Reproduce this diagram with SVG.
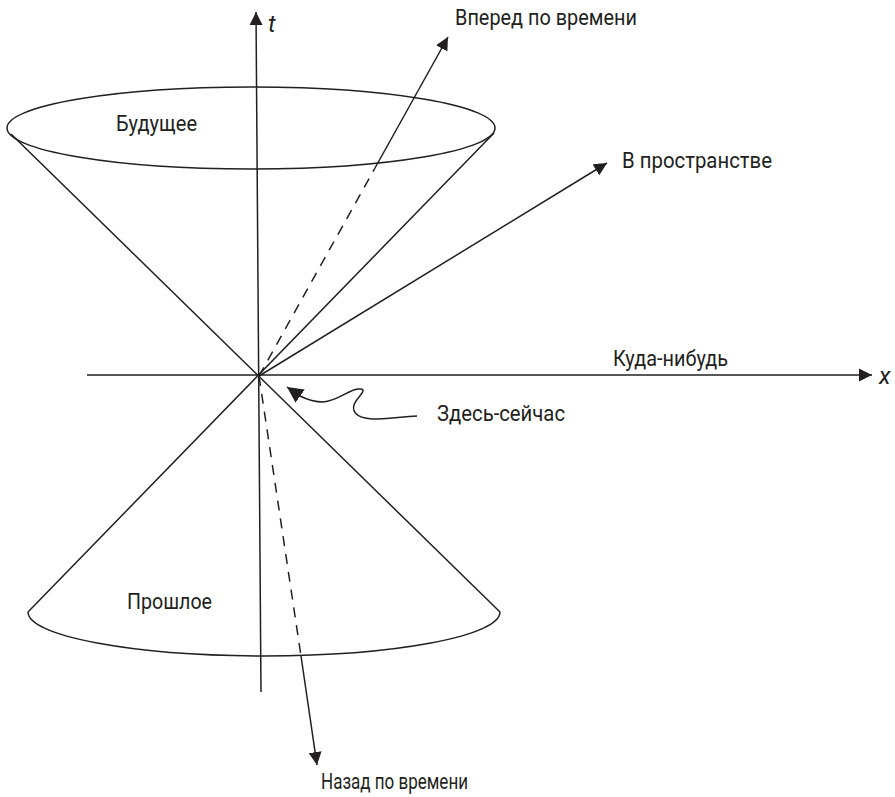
<svg xmlns="http://www.w3.org/2000/svg" width="895" height="797" viewBox="0 0 895 797">
<style>
.ln{fill:none;stroke:#231f20;stroke-width:1.5}
.dash{fill:none;stroke:#231f20;stroke-width:1.5;stroke-dasharray:10 8}
.lbl{font-family:Roboto,"Liberation Sans",sans-serif;font-size:22.5px;fill:#231f20}
.it{font-family:Roboto,"Liberation Sans",sans-serif;font-size:24px;font-style:italic;fill:#231f20}
</style>
<defs>
<marker id="ah" markerUnits="userSpaceOnUse" markerWidth="14" markerHeight="14" refX="13" refY="6.5" orient="auto" viewBox="0 0 14 13">
<path d="M0,0 L13,6.5 L0,13 z" fill="#231f20"/>
</marker>
<marker id="ah2" markerUnits="userSpaceOnUse" markerWidth="17" markerHeight="17" refX="16" refY="8" orient="auto" viewBox="0 0 17 16">
<path d="M0,0 L16,8 L0,16 z" fill="#231f20"/>
</marker>
</defs>
<g id="connectors">
<line class="ln" x1="261" y1="692" x2="256" y2="12" marker-end="url(#ah)"/>
<line class="ln" x1="87" y1="375" x2="872" y2="375" marker-end="url(#ah)"/>
<line class="ln" x1="11" y1="134" x2="500" y2="612"/>
<line class="ln" x1="494" y1="133" x2="28" y2="612"/>
<line class="dash" x1="259" y1="376" x2="375" y2="168"/>
<line class="ln" x1="375" y1="168" x2="448" y2="37" marker-end="url(#ah)"/>
<line class="dash" x1="259" y1="376" x2="301" y2="656"/>
<line class="ln" x1="301" y1="656" x2="317" y2="765" marker-end="url(#ah)"/>
<line class="ln" x1="259" y1="376" x2="607" y2="163" marker-end="url(#ah)"/>
<path class="ln" d="M417,416 C400,417 385,419 372,419 C355,418 350,410 356,401 C361,394 368,388 358,389 C348,390 338,401 323,402 C313,402 306,399 300,396 L287,387" marker-end="url(#ah2)"/>
</g>
<g id="future">
<ellipse class="ln" cx="251" cy="128" rx="244" ry="41"/>
<text class="lbl" x="116" y="131" textLength="81" lengthAdjust="spacingAndGlyphs">Будущее</text>
</g>
<g id="past">
<path class="ln" d="M28,612 A236 44 0 0 0 500 612"/>
<text class="lbl" x="127" y="609" textLength="85" lengthAdjust="spacingAndGlyphs">Прошлое</text>
</g>
<g id="t-label"><text class="it" x="268" y="32">t</text></g>
<g id="x-label"><text class="it" x="879" y="384">x</text></g>
<g id="forward"><text class="lbl" x="455" y="25" textLength="182" lengthAdjust="spacingAndGlyphs">Вперед по времени</text></g>
<g id="space"><text class="lbl" x="622" y="168" textLength="150" lengthAdjust="spacingAndGlyphs">В пространстве</text></g>
<g id="somewhere"><text class="lbl" x="613" y="366" textLength="115" lengthAdjust="spacingAndGlyphs">Куда-нибудь</text></g>
<g id="herenow"><text class="lbl" x="437" y="421" textLength="128" lengthAdjust="spacingAndGlyphs">Здесь-сейчас</text></g>
<g id="backward"><text class="lbl" x="321" y="789" textLength="147" lengthAdjust="spacingAndGlyphs">Назад по времени</text></g>
</svg>
